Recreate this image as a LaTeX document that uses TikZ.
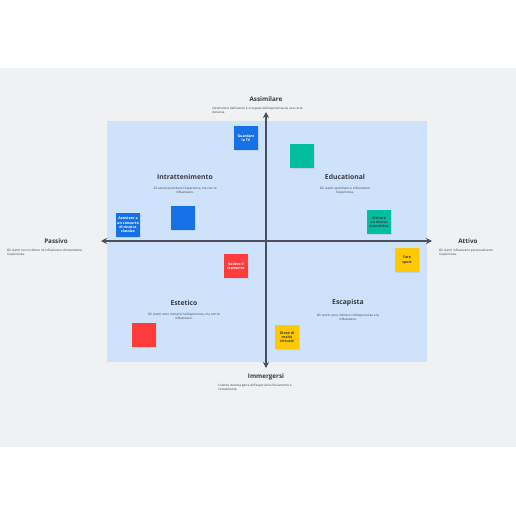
\documentclass[tikz,border=0pt]{standalone}
\usepackage{fontspec}
\setmainfont{Open Sans}
\usepackage{xcolor}
\usetikzlibrary{arrows.meta,positioning,shadows}
\definecolor{pagegray}  {RGB}{240,241,243}
\definecolor{fieldblue} {RGB}{207,226,252}
\definecolor{axisgray}  {RGB}{75,80,94}
\definecolor{textgray}  {RGB}{55,58,66}
\definecolor{noteblue}  {RGB}{22,113,230}
\definecolor{noteteal}  {RGB}{0,190,160}
\definecolor{notered}   {RGB}{255,59,59}
\definecolor{noteyellow}{RGB}{255,200,0}

\begin{document}
\begin{tikzpicture}[
      x=1pt, y=-1pt, >={Stealth[length=6pt,width=6pt]},
      every node/.style={align=center, text=textgray},
      axistitle/.style={font=\fontsize{6.3}{7}\selectfont\bfseries},
      quadtitle/.style={font=\fontsize{6.8}{8}\selectfont\bfseries},
      desc/.style={font=\fontsize{3.1}{3.9}\selectfont, inner sep=0pt},
      note/.style={rectangle, fill=#1, minimum width=24pt, minimum height=24pt,
        inner sep=1pt, font=\fontsize{3.6}{4.3}\selectfont\bfseries,
        drop shadow={opacity=0.18, shadow xshift=0.6pt, shadow yshift=-0.9pt}},
      axis/.style={<->, line width=2.6pt, color=axisgray},
    ]
    \useasboundingbox (0,0) rectangle (516,516);

    % ── Background ──────────────────────────────────────────────
    \fill[pagegray] (0,68) rectangle (516,447);
    \fill[fieldblue] (107,121) rectangle (427,362);

    % ── Axes ────────────────────────────────────────────────────
    \coordinate (top) at (266,112);
    \coordinate (bottom) at (266,368);
    \coordinate (left) at (101,241);
    \coordinate (right) at (432,241);
    \draw[axis] (top) -- (bottom);
    \draw[axis] (left) -- (right);

    % ── Axis labels ─────────────────────────────────────────────
    \node[axistitle] (assim) at (266,99) {Assimilare};
    \node[desc, anchor=north west, align=left] (assimdesc) at (212,107)
      {L'attenzione dell'utente è occupata dall'esperienza da una certa\\distanza.};

    \node[axistitle] (immer) at (266,377) {Immergersi};
    \node[desc, anchor=north west, align=left] (immerdesc) at (218,384)
      {L'utente diventa parte dell'esperienza fisicamente o\\virtualmente.};

    \node[axistitle] (passivo) at (56,241) {Passivo};
    \node[desc, anchor=north west, align=left] (passdesc) at (7,249)
      {Gli utenti non incidono né influenzano direttamente\\l'esperienza.};

    \node[axistitle] (attivo) at (468,241) {Attivo};
    \node[desc, anchor=north west, align=left] (attdesc) at (439,249)
      {Gli utenti influenzano personalmente\\l'esperienza.};

    % ── Quadrants ───────────────────────────────────────────────
    \node[quadtitle] (intra) at (185,177) {Intrattenimento};
    \node[desc, below=4pt of intra] (intradesc)
      {Gli utenti assimilano l'esperienza, ma non la\\influenzano.};

    \node[quadtitle] (edu) at (345,177) {Educational};
    \node[desc, below=4pt of edu] (edudesc)
      {Gli utenti assimilano e influenzano\\l'esperienza.};

    \node[quadtitle] (este) at (184,303) {Estetico};
    \node[desc, below=4pt of este] (estedesc)
      {Gli utenti sono immersi nell'esperienza, ma non la\\influenzano.};

    \node[quadtitle] (esca) at (348,303) {Escapista};
    \node[desc, below=4pt of esca] (escadesc)
      {Gli utenti sono immersi nell'esperienza e la\\influenzano.};

    % ── Sticky notes ────────────────────────────────────────────
    \node[note=noteblue, text=white] (tv) at (246,138) {Guardare\\la TV};
    \node[note=noteteal] (tealnote) at (302,156) {};
    \node[note=noteblue, text=white] (concerto) at (128,225) {Assistere a\\un concerto\\di musica\\classica};
    \node[note=noteblue] (bluenote) at (183,218) {};
    \node[note=noteteal] (museo) at (379,222) {Visitare\\un museo\\interattivo};
    \node[note=noteyellow] (sport) at (407,260) {Fare\\sport};
    \node[note=notered, text=white] (tramonto) at (236,266) {Vedere il\\tramonto};
    \node[note=noteyellow] (vr) at (287,337) {Gioco di\\realtà\\virtuale};
    \node[note=notered] (rednote) at (144,335) {};

\end{tikzpicture}
\end{document}
